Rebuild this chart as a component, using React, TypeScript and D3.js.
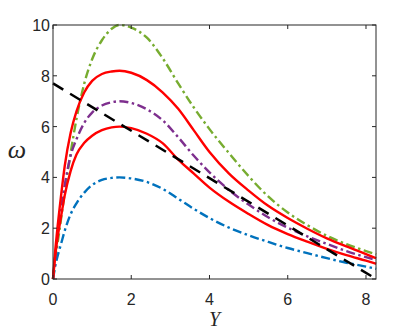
import React, { useRef, useEffect } from 'react';
import * as d3 from 'd3';

// sample positions along Y
const yGrid = [0, 0.05, 0.1, 0.2, 0.3, 0.45, 0.6, 0.8, 1.0, 1.25, 1.5, 1.7, 2.0, 2.4, 2.8, 3.2, 3.6, 4.0, 4.5, 5.0, 5.5, 6.0, 6.5, 7.0, 7.5, 8.0, 8.26];

// curves
const greenVals = [0, 0.6, 1.2, 2.3, 3.4, 4.95, 6.3, 7.7, 8.65, 9.4, 9.85, 10, 9.9, 9.5, 8.7, 7.7, 6.75, 5.9, 4.95, 4.05, 3.25, 2.62, 2.12, 1.7, 1.37, 1.1, 0.97];
const redHighVals = [0, 1.0, 1.8, 3.2, 4.45, 5.75, 6.6, 7.35, 7.8, 8.07, 8.17, 8.2, 8.12, 7.83, 7.35, 6.7, 5.85, 5.0, 4.15, 3.48, 2.88, 2.4, 1.98, 1.6, 1.28, 0.98, 0.82];
const purpleVals = [0, 0.8, 1.5, 2.7, 3.7, 4.85, 5.5, 6.15, 6.55, 6.83, 6.96, 7.0, 6.93, 6.68, 6.25, 5.58, 4.85, 4.2, 3.5, 2.93, 2.43, 2.02, 1.68, 1.38, 1.1, 0.86, 0.75];
const redLowVals = [0, 0.8, 1.45, 2.4, 3.3, 4.25, 4.9, 5.36, 5.64, 5.86, 5.97, 6.0, 5.94, 5.72, 5.35, 4.7, 4.15, 3.6, 3.04, 2.56, 2.12, 1.77, 1.47, 1.19, 0.94, 0.72, 0.6];
const blueVals = [0, 0.45, 0.8, 1.35, 1.9, 2.55, 2.98, 3.4, 3.7, 3.9, 3.98, 4.0, 3.96, 3.82, 3.55, 3.16, 2.76, 2.4, 2.02, 1.72, 1.46, 1.22, 1.02, 0.82, 0.64, 0.49, 0.4];

// straight dashed line
const lineY = [0, 8.26];
const lineVals = [7.7, 0];

const xTicks = [0, 2, 4, 6, 8];
const yTicks = [0, 2, 4, 6, 8, 10];

const App = () => {
    const chartRef = useRef<HTMLDivElement>(null);

    useEffect(() => {
        const width = 415;
        const height = 333;
        const marginLeft = 53;
        const marginRight = 39;
        const marginTop = 25;
        const marginBottom = 54;
        const axisColor = '#262626';
        const tickLen = 4;

        const x = d3.scaleLinear([0, 8.256], [marginLeft, width - marginRight]);
        const y = d3.scaleLinear([0, 10], [height - marginBottom, marginTop]);

        const svg = d3.create('svg')
            .attr('width', width)
            .attr('height', height)
            .attr('viewBox', [0, 0, width, height])
            .style('position', 'absolute')
            .style('left', '0px')
            .style('top', '0px')
            .style('background', '#fff');

        const x0 = x(0), x1 = x(8.256), y0 = y(0), y1 = y(10);

        const plot = svg.append('g');

        const line = d3.line<[number, number]>()
            .x(d => x(d[0]))
            .y(d => y(d[1]))
            .curve(d3.curveMonotoneX);

        const dashDot = '9,3.5,2.5,3.5';
        const series = [
            { vals: greenVals, color: '#77AC30', dash: dashDot },
            { vals: blueVals, color: '#0072BD', dash: dashDot },
            { vals: purpleVals, color: '#7E2F8E', dash: dashDot },
            { vals: redLowVals, color: '#FF0000', dash: null },
            { vals: redHighVals, color: '#FF0000', dash: null },
        ];

        series.forEach(s => {
            plot.append('path')
                .attr('fill', 'none')
                .attr('stroke', s.color)
                .attr('stroke-width', 2.4)
                .attr('stroke-dasharray', s.dash)
                .attr('d', line(yGrid.map((v, i) => [v, s.vals[i]] as [number, number])));
        });

        plot.append('path')
            .attr('fill', 'none')
            .attr('stroke', '#000')
            .attr('stroke-width', 2.5)
            .attr('stroke-dasharray', '12,8')
            .attr('d', d3.line<[number, number]>().x(d => x(d[0])).y(d => y(d[1]))(lineY.map((v, i) => [v, lineVals[i]] as [number, number])));

        // box
        const axes = svg.append('g').attr('stroke', axisColor).attr('stroke-width', 1).attr('fill', 'none');
        axes.append('rect')
            .attr('x', x0).attr('y', y1)
            .attr('width', x1 - x0).attr('height', y0 - y1);

        xTicks.forEach(t => {
            axes.append('line').attr('x1', x(t)).attr('x2', x(t)).attr('y1', y0).attr('y2', y0 - tickLen);
            axes.append('line').attr('x1', x(t)).attr('x2', x(t)).attr('y1', y1).attr('y2', y1 + tickLen);
        });
        yTicks.forEach(t => {
            axes.append('line').attr('x1', x0).attr('x2', x0 + tickLen).attr('y1', y(t)).attr('y2', y(t));
            axes.append('line').attr('x1', x1).attr('x2', x1 - tickLen).attr('y1', y(t)).attr('y2', y(t));
        });

        const labels = svg.append('g')
            .attr('fill', axisColor)
            .attr('font-family', '"Liberation Sans", Arial, sans-serif')
            .attr('font-size', 16);

        labels.selectAll('.xt')
            .data(xTicks)
            .join('text')
            .attr('x', d => x(d))
            .attr('y', y0 + 26)
            .attr('text-anchor', 'middle')
            .text(d => d);

        labels.selectAll('.yt')
            .data(yTicks)
            .join('text')
            .attr('x', x0 - 3)
            .attr('y', d => y(d) + 6)
            .attr('text-anchor', 'end')
            .text(d => d);

        svg.append('text')
            .attr('x', (x0 + x1) / 2)
            .attr('y', 326)
            .attr('text-anchor', 'middle')
            .attr('font-family', '"Liberation Serif", "DejaVu Serif", serif')
            .attr('font-style', 'italic')
            .attr('font-size', 20)
            .attr('fill', axisColor)
            .text('Y');

        svg.append('text')
            .attr('x', 17)
            .attr('y', 158)
            .attr('text-anchor', 'middle')
            .attr('font-family', '"Liberation Serif", "DejaVu Serif", serif')
            .attr('font-style', 'italic')
            .attr('font-size', 26)
            .attr('fill', axisColor)
            .text('ω');

        chartRef.current?.appendChild(svg.node()!);

        return () => {
            if (chartRef.current) chartRef.current.innerHTML = '';
        };
    }, []);

    return <div ref={chartRef}></div>;
};

export default App;
